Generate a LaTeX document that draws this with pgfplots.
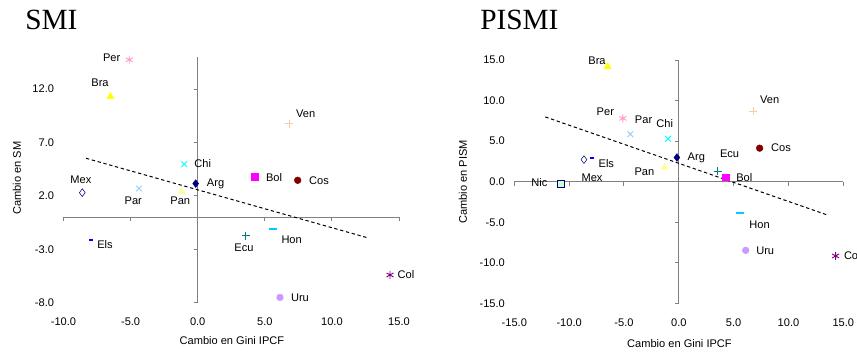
\documentclass[border=0pt]{standalone}
\usepackage{pgfplots}
\pgfplotsset{compat=1.18}
\usepackage{fontspec}
\setmainfont{Liberation Sans}
\newfontfamily\titlefont{Liberation Serif}

\definecolor{cArg}{HTML}{000080}
\definecolor{cBol}{HTML}{FF00FF}
\definecolor{cBra}{HTML}{FFFF00}
\definecolor{cChi}{HTML}{00FFFF}
\definecolor{cCol}{HTML}{800080}
\definecolor{cCos}{HTML}{800000}
\definecolor{cEcu}{HTML}{008080}
\definecolor{cEls}{HTML}{0000FF}
\definecolor{cHon}{HTML}{00CCFF}
\definecolor{cMex}{HTML}{000080}
\definecolor{cNic}{HTML}{000080}
\definecolor{cNicFill}{HTML}{CCFFCC}
\definecolor{cPan}{HTML}{FFFF99}
\definecolor{cPar}{HTML}{99CCFF}
\definecolor{cPer}{HTML}{FF99CC}
\definecolor{cUru}{HTML}{CC99FF}
\definecolor{cVen}{HTML}{FFCC99}
\definecolor{axgray}{HTML}{808080}

\newcommand{\smallfont}{\fontsize{8.3}{10}\selectfont}

\tikzset{
  lbl/.style={font=\smallfont, inner sep=0pt, anchor=center},
}

\pgfplotsset{
  base/.style={scale only axis, clip=false},
  % axis lines through the origin, with outward ticks and no labels
  frame/.style={base,
    axis lines=middle,
    axis line style={axgray, line width=0.75pt, -},
    major tick style={axgray, line width=0.75pt},
    tick align=outside, major tick length=3pt,
    xticklabels={}, yticklabels={},
    hide obscured x ticks=false, hide obscured y ticks=false},
  % invisible frame carrying tick labels at the left and bottom edges
  labels/.style={base,
    axis lines=left,
    axis line style={draw=none},
    major tick length=0pt,
    tick label style={font=\smallfont},
    xticklabel style={yshift=-7.7pt},
    yticklabel style={xshift=-3.6pt}},
  mk/.style={only marks, mark size=2.5pt, mark options={line width=0.7pt}},
  mdia/.style={mk, mark=diamond*, mark size=2.9pt},
  mx/.style={mk, mark=x, mark size=3pt},
  mast/.style={mk, mark=asterisk, mark size=3pt},
  trend/.style={black, line width=0.75pt, dash pattern=on 2.5pt off 2pt, no marks},
}

\begin{document}
\begin{tikzpicture}
\useasboundingbox (0,0) rectangle (642.75pt,-263.25pt);

\node[anchor=base west, inner sep=0pt, font=\titlefont\fontsize{22}{26}\selectfont] at (18.75pt,-21.98pt) {SMI};
\node[anchor=base west, inner sep=0pt, font=\titlefont\fontsize{22}{26}\selectfont] at (360pt,-21.98pt) {PISMI};

% ---------------- SMI ----------------
\begin{axis}[frame, at={(47.63pt,-227.03pt)}, anchor=south west,
  width=251.63pt, height=184.28pt,
  xmin=-10, xmax=15, ymin=-8, ymax=15,
  xtick={-10,-5,0,5,10,15}, ytick={-8,-3,2,7,12}]
\end{axis}
\begin{axis}[labels, at={(47.63pt,-227.03pt)}, anchor=south west,
  width=251.63pt, height=184.28pt,
  xmin=-10, xmax=15, ymin=-8, ymax=15,
  xtick={-10,-5,0,5,10,15}, ytick={-8,-3,2,7,12},
  xticklabels={-10.0,-5.0,0.0,5.0,10.0,15.0},
  yticklabels={-8.0,-3.0,2.0,7.0,12.0},
  xlabel={Cambio en Gini IPCF}, ylabel={Cambio en SM},
  every axis x label/.style={at={(axis description cs:0.502,-0.1547)}, anchor=center, font=\smallfont},
  every axis y label/.style={at={(axis description cs:-0.1386,0.507)}, rotate=90, anchor=center, font=\smallfont}]
\addplot[trend] coordinates {(-8.32,5.52) (12.71,-1.94)};
\addplot[mdia, cArg, mark options={fill=cArg}] coordinates {(-0.15,3.15)};
\addplot[mk, mark=square*, cBol, mark options={fill=cBol}] coordinates {(4.25,3.77)};
\addplot[mk, mark=triangle*, mark size=3pt, cBra, mark options={fill=cBra}] coordinates {(-6.5,11.3)};
\addplot[mx, cChi] coordinates {(-1.0,4.96)};
\addplot[mast, cCol] coordinates {(14.33,-5.4)};
\addplot[mk, mark=*, cCos, mark options={fill=cCos}] coordinates {(7.45,3.46)};
\addplot[mk, mark=+, mark size=3pt, cEcu] coordinates {(3.58,-1.75)};
\addplot[mk, mark=-, mark size=1.5pt, cEls, mark options={line width=1.2pt}] coordinates {(-7.97,-2.15)};
\addplot[mk, mark=-, mark size=3pt, cHon, mark options={line width=1.5pt}] coordinates {(5.6,-1.06)};
\addplot[mdia, cMex, mark options={fill=white}] coordinates {(-8.6,2.3)};
\addplot[mk, mark=triangle*, mark size=3pt, cPan, mark options={fill=cPan}] coordinates {(-1.2,2.4)};
\addplot[mx, cPar] coordinates {(-4.37,2.69)};
\addplot[mast, cPer] coordinates {(-5.1,14.75)};
\addplot[mk, mark=*, cUru, mark options={fill=cUru}] coordinates {(6.13,-7.5)};
\addplot[mk, mark=+, mark size=3pt, cVen] coordinates {(6.83,8.77)};
\node[lbl] at (axis cs:-6.41,14.95) {Per};
\node[lbl] at (axis cs:-7.28,12.61) {Bra};
\node[lbl] at (axis cs:8.05,9.71) {Ven};
\node[lbl] at (axis cs:0.37,5.03) {Chi};
\node[lbl] at (axis cs:1.33,3.16) {Arg};
\node[lbl] at (axis cs:-8.7,3.53) {Mex};
\node[lbl] at (axis cs:-4.8,1.5) {Par};
\node[lbl] at (axis cs:-1.3,1.5) {Pan};
\node[lbl] at (axis cs:5.69,3.72) {Bol};
\node[lbl] at (axis cs:9.04,3.46) {Cos};
\node[lbl] at (axis cs:-6.91,-2.56) {Els};
\node[lbl] at (axis cs:3.45,-2.87) {Ecu};
\node[lbl] at (axis cs:7.0,-2.15) {Hon};
\node[lbl] at (axis cs:15.52,-5.34) {Col};
\node[lbl] at (axis cs:7.62,-7.52) {Uru};
\end{axis}

% ---------------- PISMI ----------------
\begin{axis}[frame, at={(385.73pt,-227.48pt)}, anchor=south west,
  width=246.75pt, height=182.48pt,
  xmin=-15, xmax=15, ymin=-15, ymax=15,
  xtick={-15,-10,-5,0,5,10,15}, ytick={-15,-10,-5,0,5,10,15}]
\end{axis}
\begin{axis}[labels, at={(385.73pt,-227.48pt)}, anchor=south west,
  width=246.75pt, height=182.48pt,
  xmin=-15, xmax=15, ymin=-15, ymax=15,
  xtick={-15,-10,-5,0,5,10,15}, ytick={-15,-10,-5,0,5,10,15},
  xticklabels={-15.0,-10.0,-5.0,0.0,5.0,10.0,15.0},
  yticklabels={-15.0,-10.0,-5.0,0.0,5.0,10.0,15.0},
  xlabel={Cambio en Gini IPCF}, ylabel={Cambio en PISM},
  every axis x label/.style={at={(axis description cs:0.502,-0.164)}, anchor=center, font=\smallfont},
  every axis y label/.style={at={(axis description cs:-0.156,0.4986)}, rotate=90, anchor=center, font=\smallfont}]
\addplot[trend] coordinates {(-12.17,7.98) (13.51,-4.09)};
\addplot[mdia, cArg, mark options={fill=cArg}] coordinates {(-0.17,2.98)};
\addplot[mk, mark=square*, cBol, mark options={fill=cBol}] coordinates {(4.3,0.53)};
\addplot[mk, mark=triangle*, mark size=3pt, cBra, mark options={fill=cBra}] coordinates {(-6.49,14.2)};
\addplot[mx, cChi] coordinates {(-0.98,5.28)};
\addplot[mast, cCol] coordinates {(14.3,-9.16)};
\addplot[mk, mark=*, cCos, mark options={fill=cCos}] coordinates {(7.37,4.13)};
\addplot[mk, mark=+, mark size=3pt, cEcu] coordinates {(3.56,1.3)};
\addplot[mk, mark=-, mark size=1.5pt, cEls, mark options={line width=1.2pt}] coordinates {(-7.91,2.95)};
\addplot[mk, mark=-, mark size=3pt, cHon, mark options={line width=1.5pt}] coordinates {(5.62,-3.89)};
\addplot[mdia, cMex, mark options={fill=white}] coordinates {(-8.65,2.72)};
\addplot[mk, mark=square*, cNic, mark options={fill=cNicFill}] coordinates {(-10.77,-0.29)};
\addplot[mk, mark=triangle*, mark size=3pt, cPan, mark options={fill=cPan}] coordinates {(-1.29,1.76)};
\addplot[mx, cPar] coordinates {(-4.42,5.85)};
\addplot[mast, cPer] coordinates {(-5.1,7.8)};
\addplot[mk, mark=*, cUru, mark options={fill=cUru}] coordinates {(6.1,-8.47)};
\addplot[mk, mark=+, mark size=3pt, cVen] coordinates {(6.8,8.71)};
\node[lbl] at (axis cs:-7.46,14.97) {Bra};
\node[lbl] at (axis cs:-6.7,8.59) {Per};
\node[lbl] at (axis cs:-3.21,7.6) {Par};
\node[lbl] at (axis cs:-1.29,7.15) {Chi};
\node[lbl] at (axis cs:8.28,10.06) {Ven};
\node[lbl] at (axis cs:9.32,4.13) {Cos};
\node[lbl] at (axis cs:1.6,2.98) {Arg};
\node[lbl] at (axis cs:4.63,3.39) {Ecu};
\node[lbl] at (axis cs:5.97,0.45) {Bol};
\node[lbl] at (axis cs:-6.61,2.29) {Els};
\node[lbl] at (axis cs:-7.91,0.53) {Mex};
\node[lbl] at (axis cs:-3.14,1.23) {Pan};
\node[lbl] at (axis cs:-12.72,-0.08) {Nic};
\node[lbl] at (axis cs:7.37,-5.36) {Hon};
\node[lbl] at (axis cs:7.88,-8.47) {Uru};
\node[lbl] at (axis cs:15.82,-9.08) {Col};
\end{axis}
\end{tikzpicture}
\end{document}
